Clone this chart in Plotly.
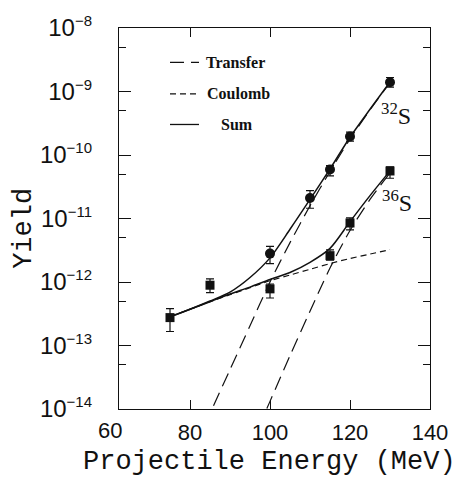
import plotly.graph_objects as go

# ---- data ----
# 32S (circles)
e32 = [100, 110, 115, 120, 130]
y32 = [2.8e-12, 2.1e-11, 5.9e-11, 1.95e-10, 1.4e-9]
y32_hi = [3.63e-12, 2.75e-11, 6.8e-11, 2.3e-10, 1.66e-9]
y32_lo = [1.95e-12, 1.45e-11, 4.7e-11, 1.65e-10, 1.17e-9]

# 36S (squares)
e36 = [75, 85, 100, 115, 120, 130]
y36 = [2.75e-13, 8.9e-13, 7.8e-13, 2.6e-12, 8.5e-12, 5.6e-11]
y36_hi = [3.8e-13, 1.12e-12, 9.3e-13, 3.2e-12, 1.02e-11, 6.5e-11]
y36_lo = [1.66e-13, 6.8e-13, 5.6e-13, 2.2e-12, 6.6e-12, 4.3e-11]

# model curves (log10 of yield) on an energy grid
e_curve = [75, 80, 85, 90, 95, 100, 105, 110, 115, 120, 125, 130]
coulomb_log = [-12.54, -12.43, -12.31, -12.20, -12.09, -11.98, -11.89, -11.80, -11.71, -11.63, -11.56, -11.49]
transfer32_log = [-15.45, -14.76, -14.07, -13.38, -12.69, -12.00, -11.38, -10.80, -10.26, -9.75, -9.29, -8.86]
transfer36_log = [-17.3, -16.7, -16.0, -15.3, -14.6, -13.88, -13.16, -12.46, -11.78, -11.19, -10.70, -10.28]
sum32_log = [-12.55, -12.43, -12.30, -12.16, -11.93, -11.62, -11.17, -10.70, -10.22, -9.72, -9.28, -8.85]
sum36_log = [-12.55, -12.43, -12.31, -12.19, -12.08, -11.96, -11.85, -11.69, -11.47, -11.05, -10.64, -10.25]

x_ticks = [80, 100, 120, 140]
y_exps = [-14, -13, -12, -11, -10, -9, -8]

# ---- layout helpers (pixel -> paper) for labels ----
L, R, T, B = 119, 430, 22, 409
def px(x):
    return (x - L) / (R - L)
def py(y):
    return (B - y) / (B - T)

BLACK = "#111111"
MONO = "Courier New, Courier, Nimbus Mono PS, FreeMono, Liberation Mono, monospace"
fig = go.Figure()

def curve(vals_log, dash, width):
    fig.add_trace(go.Scatter(
        x=e_curve, y=[10 ** v for v in vals_log], mode="lines",
        line=dict(color=BLACK, width=width, dash=dash, shape="spline", smoothing=0.8),
        showlegend=False, hoverinfo="skip"))

curve(coulomb_log, "6px,4px", 1.2)
curve(transfer32_log, "14px,7px", 1.2)
curve(transfer36_log, "14px,7px", 1.2)
curve(sum32_log, "solid", 1.5)
curve(sum36_log, "solid", 1.5)

fig.add_trace(go.Scatter(
    x=e32, y=y32, mode="markers",
    marker=dict(symbol="circle", size=10, color=BLACK),
    error_y=dict(type="data", symmetric=False,
                 array=[h - v for h, v in zip(y32_hi, y32)],
                 arrayminus=[v - l for l, v in zip(y32_lo, y32)],
                 color=BLACK, thickness=1.2, width=4),
    showlegend=False))
fig.add_trace(go.Scatter(
    x=e36, y=y36, mode="markers",
    marker=dict(symbol="square", size=9, color=BLACK),
    error_y=dict(type="data", symmetric=False,
                 array=[h - v for h, v in zip(y36_hi, y36)],
                 arrayminus=[v - l for l, v in zip(y36_lo, y36)],
                 color=BLACK, thickness=1.2, width=4),
    showlegend=False))

fig.update_layout(
    width=460, height=494,
    margin=dict(l=L, r=460 - R, t=T, b=494 - B),
    paper_bgcolor="white", plot_bgcolor="white",
    xaxis=dict(range=[62.25, 140], tickvals=x_ticks, ticks="inside", ticklen=9,
               tickcolor=BLACK, showline=True, linecolor=BLACK, linewidth=1.3,
               mirror="ticks", showgrid=False, zeroline=False,
               tickfont=dict(family="Liberation Sans", size=22, color=BLACK),
               ticklabelstandoff=3),
    yaxis=dict(type="log", range=[-14, -8],
               tickvals=[10.0 ** k for k in y_exps],
               ticktext=["10<sup><span style='font-size:15px'>\u2212%d</span></sup>" % (-k) for k in y_exps],
               ticks="inside", ticklen=12, tickcolor=BLACK,
               minor=dict(tickvals=[5 * 10.0 ** k for k in y_exps[:-1]],
                          ticks="inside", ticklen=7, tickcolor=BLACK, showgrid=False),
               showline=True, linecolor=BLACK, linewidth=1.3, mirror="ticks",
               showgrid=False, zeroline=False,
               tickfont=dict(family="Liberation Sans", size=24, color=BLACK),
               ticklabelstandoff=21),
)

annotations = [
    dict(x=px(110), y=py(431), xref="paper", yref="paper", text="60", showarrow=False,
         xanchor="center", yanchor="middle",
         font=dict(family="Liberation Sans", size=22, color=BLACK)),
    dict(x=px(269), y=py(463), xref="paper", yref="paper",
         text="Projectile Energy (MeV)", showarrow=False,
         xanchor="center", yanchor="middle",
         font=dict(family=MONO, size=27, color=BLACK)),
    dict(x=px(24), y=py(226), xref="paper", yref="paper", text="Yield",
         textangle=-90, showarrow=False, xanchor="center", yanchor="middle",
         font=dict(family=MONO, size=27, color=BLACK)),
    dict(x=px(396), y=py(109), xref="paper", yref="paper", text="<sup>32</sup>S",
         showarrow=False, xanchor="center", yanchor="middle",
         font=dict(family="Liberation Serif", size=24, color=BLACK)),
    dict(x=px(397), y=py(198), xref="paper", yref="paper", text="<sup>36</sup>S",
         showarrow=False, xanchor="center", yanchor="middle",
         font=dict(family="Liberation Serif", size=24, color=BLACK)),
]
legend_items = [("Transfer", 57, "14px,7px", 204), ("Coulomb", 89, "6px,4px", 205), ("Sum", 120, "solid", 219)]
shapes = []
for name, yy, dash, tx in legend_items:
    shapes.append(dict(type="line", xref="paper", yref="paper",
                       x0=px(170), x1=px(199), y0=py(yy), y1=py(yy),
                       line=dict(color=BLACK, width=1.3, dash=dash)))
    annotations.append(dict(x=px(tx), y=py(yy), xref="paper", yref="paper", text="<b>%s</b>" % name,
                            showarrow=False, xanchor="left", yanchor="middle",
                            font=dict(family="Liberation Serif", size=16, color=BLACK)))
fig.update_layout(annotations=annotations, shapes=shapes)

fig.write_html("out.html")
